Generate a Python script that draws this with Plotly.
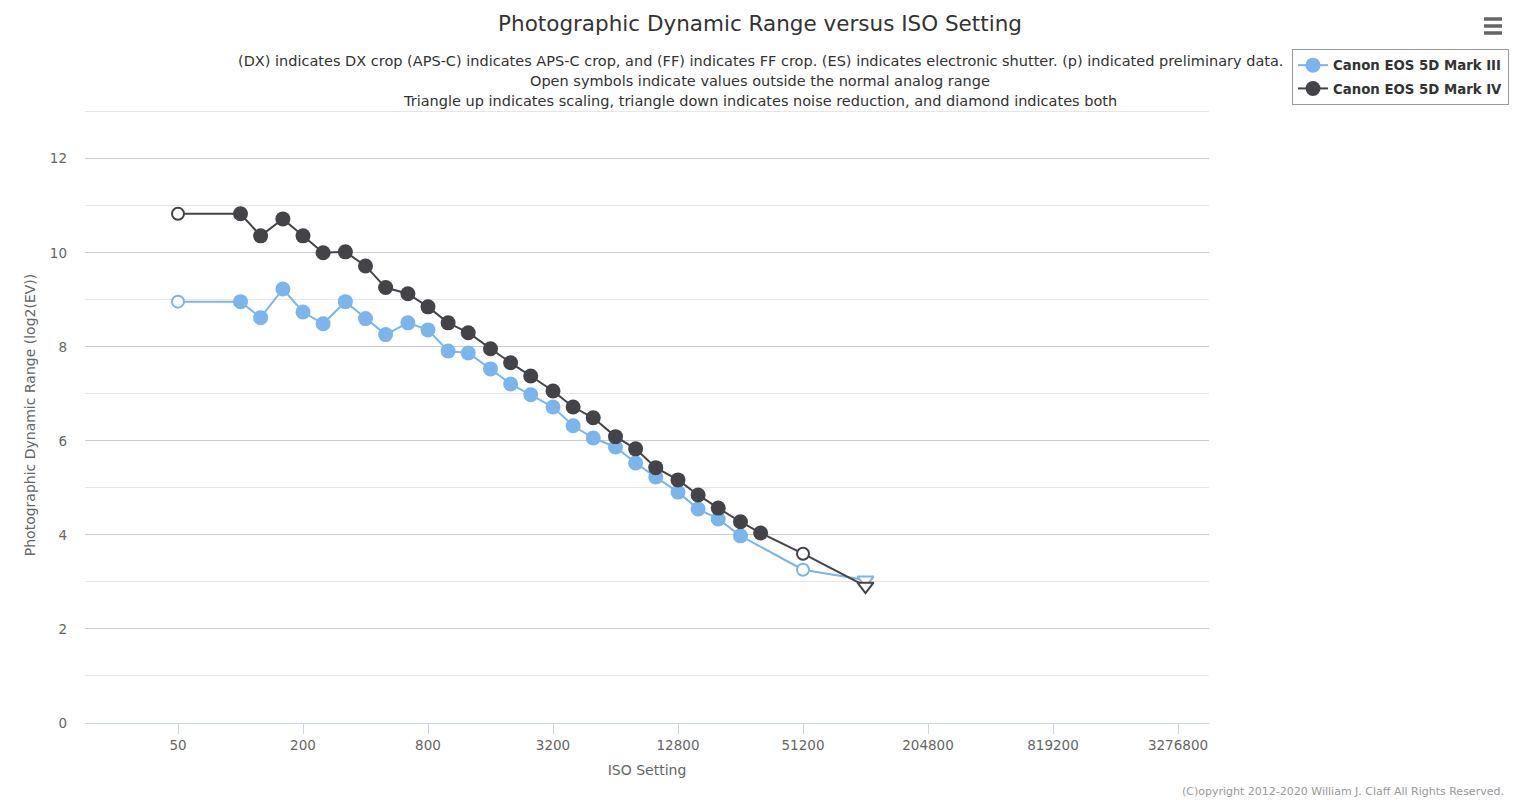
import numpy as np
import plotly.graph_objects as go

# ISO settings (nominal 1/3 stop values)
iso_mk3 = [50, 100, 125, 160, 200, 250, 320, 400, 500, 640, 800, 1000, 1250, 1600, 2000,
           2500, 3200, 4000, 5000, 6400, 8000, 10000, 12800, 16000, 20000, 25600, 51200, 102400]
pdr_mk3 = [8.96, 8.96, 8.62, 9.23, 8.74, 8.49, 8.96, 8.60, 8.26, 8.51, 8.36, 7.91, 7.87, 7.53, 7.21,
           6.98, 6.72, 6.32, 6.06, 5.87, 5.53, 5.23, 4.91, 4.55, 4.34, 3.98, 3.26, 3.04]
sym_mk3 = ['o'] + ['f'] * 25 + ['o', 'v']

iso_mk4 = [50, 100, 125, 160, 200, 250, 320, 400, 500, 640, 800, 1000, 1250, 1600, 2000,
           2500, 3200, 4000, 5000, 6400, 8000, 10000, 12800, 16000, 20000, 25600, 32000, 51200, 102400]
pdr_mk4 = [10.83, 10.83, 10.36, 10.72, 10.36, 10.00, 10.02, 9.72, 9.26, 9.13, 8.85, 8.51, 8.30, 7.96, 7.66,
           7.38, 7.06, 6.72, 6.49, 6.09, 5.83, 5.43, 5.17, 4.85, 4.57, 4.28, 4.04, 3.60, 2.91]
sym_mk4 = ['o'] + ['f'] * 26 + ['o', 'v']

x_ticks = [50, 200, 800, 3200, 12800, 51200, 204800, 819200, 3276800]
y_ticks = [0, 2, 4, 6, 8, 10, 12]

subtitle_lines = [
    '(DX) indicates DX crop (APS-C) indicates APS-C crop, and (FF) indicates FF crop. (ES) indicates electronic shutter. (p) indicated preliminary data.',
    'Open symbols indicate values outside the normal analog range',
    'Triangle up indicates scaling, triangle down indicates noise reduction, and diamond indicates both',
]

FONT = "Lucida Grande, Lucida Sans Unicode, DejaVu Sans, Arial, sans-serif"

# plot area in pixels (top extended a little so the gridline at 13 is drawn)
PL, PR, PT, PB = 85, 1209, 107, 723
PW, PH = PR - PL, PB - PT


def px_x(x):
    return (x - PL) / PW


def px_y(y):
    return (PB - y) / PH


def add_series(fig, name, iso, pdr, sym, color):
    symbols = []
    fills = []
    sizes = []
    for s in sym:
        if s == 'f':
            symbols.append('circle'); fills.append(color); sizes.append(15)
        elif s == 'o':
            symbols.append('circle'); fills.append('white'); sizes.append(12)
        else:
            symbols.append('triangle-down'); fills.append('white'); sizes.append(14)
    fig.add_trace(go.Scatter(
        x=iso, y=pdr, mode='lines+markers', name=name, legendgroup=name, showlegend=False,
        line=dict(color=color, width=2),
        marker=dict(symbol=symbols, color=fills, size=sizes, opacity=1,
                    line=dict(color=color, width=[0 if s == 'f' else 2 for s in sym])),
    ))
    # legend entry only
    fig.add_trace(go.Scatter(
        x=[None], y=[None], mode='lines+markers', name=name, legendgroup=name,
        line=dict(color=color, width=2),
        marker=dict(symbol='circle', color=color, size=15, opacity=1),
    ))


fig = go.Figure()
add_series(fig, 'Canon EOS 5D Mark III', iso_mk3, pdr_mk3, sym_mk3, '#7cb5ec')
add_series(fig, 'Canon EOS 5D Mark IV', iso_mk4, pdr_mk4, sym_mk4, '#434348')

l2 = np.log10(2)
x_lo = np.log10(50) - 1.488 * l2
x_hi = np.log10(50) + 16.496 * l2

fig.update_layout(
    width=1518, height=802,
    paper_bgcolor='white', plot_bgcolor='white',
    margin=dict(l=PL, r=1518 - PR, t=PT, b=802 - PB),
    font=dict(family=FONT, color='#666666', size=13),
    title=dict(text='Photographic Dynamic Range versus ISO Setting', x=760 / 1518, xref='container',
               xanchor='center', y=1 - 23 / 802, yanchor='middle',
               font=dict(size=21.5, color='#333333')),
    showlegend=True,
    legend=dict(x=1292 / 1518, y=1 - 49 / 802, xref='container', yref='container',
                xanchor='left', yanchor='top',
                bordercolor='#999999', borderwidth=1, bgcolor='white',
                font=dict(size=13.3, color='#333333', weight='bold'), tracegroupgap=3),
    xaxis=dict(type='log', range=[x_lo, x_hi], tickvals=x_ticks,
               ticktext=[str(v) for v in x_ticks],
               showgrid=False, zeroline=False, showline=True, linecolor='#ccd6eb', linewidth=1,
               ticks='outside', ticklen=10, tickcolor='#ccd6eb',
               tickfont=dict(size=13.5, color='#666666'),
               title=dict(text='ISO Setting', font=dict(size=14, color='#666666'), standoff=12)),
    yaxis=dict(range=[0, 13.1], tickvals=y_ticks, showgrid=True, gridcolor='#cccccc',
               zeroline=False, showline=False,
               ticks='', ticklabelstandoff=17,
               tickfont=dict(size=13.5, color='#666666'),
               minor=dict(dtick=1, showgrid=True, gridcolor='#e6e6e6'),
               title=dict(text='Photographic Dynamic Range (log2(EV))',
                          font=dict(size=14, color='#666666'), standoff=10)),
)

for line, ypix in zip(subtitle_lines, (61, 81, 101)):
    fig.add_annotation(
        text=line, xref='paper', yref='paper', x=px_x(760), y=px_y(ypix),
        xanchor='center', yanchor='middle', showarrow=False,
        font=dict(size=14.5, color='#333333'))

fig.add_annotation(
    text='(C)opyright 2012-2020 William J. Claff All Rights Reserved.',
    xref='paper', yref='paper', x=px_x(1506), y=px_y(792),
    xanchor='right', yanchor='middle', showarrow=False,
    font=dict(size=11, color='#999999'))

# export menu icon
for yy in (19, 26, 33):
    fig.add_shape(type='line', xref='paper', yref='paper',
                  x0=px_x(1484), x1=px_x(1502), y0=px_y(yy), y1=px_y(yy),
                  line=dict(color='#666666', width=3.5))

fig.write_html("out.html", config={'displayModeBar': False},
               post_script="document.body.style.margin='0';")
